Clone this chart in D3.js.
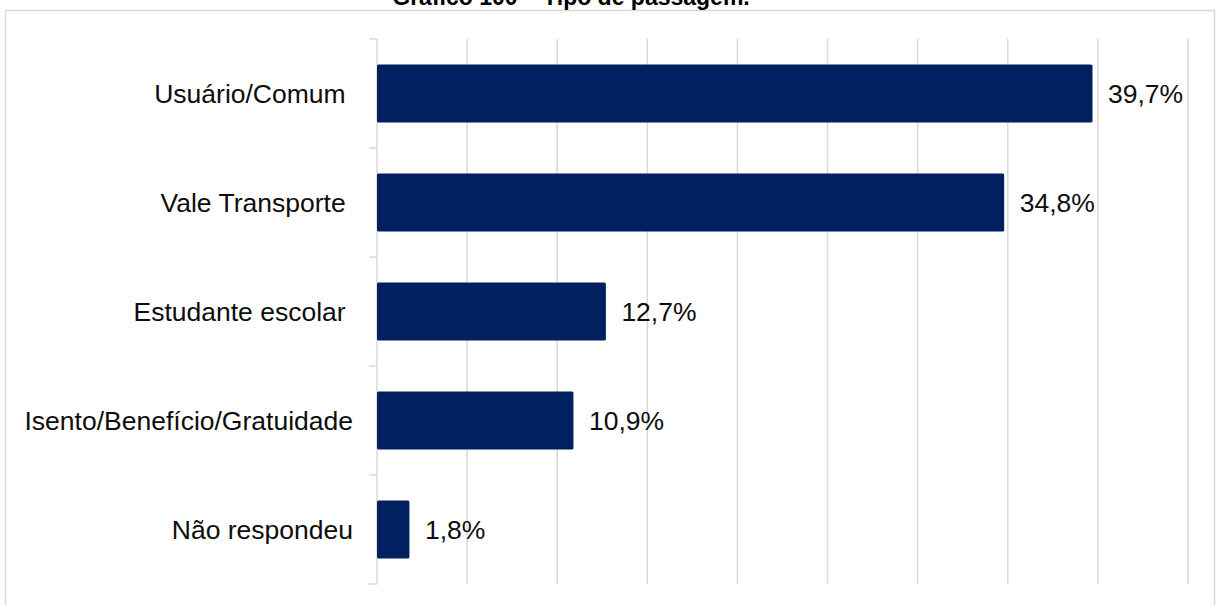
<!DOCTYPE html>
<html>
<head>
<meta charset="utf-8">
<script src="https://cdn.jsdelivr.net/npm/d3@7"></script>
<style>
  body { margin: 0; background: #fff; }
  svg { display: block; font-family: "Liberation Sans", Arial, sans-serif; }
</style>
</head>
<body>
<script>
// Data
const categories = ["Usuário/Comum ", "Vale Transporte ", "Estudante escolar ", "Isento/Benefício/Gratuidade", "Não respondeu"];
const values = [39.7, 34.8, 12.7, 10.9, 1.8];
const xTicks = [0, 5, 10, 15, 20, 25, 30, 35, 40, 45];
const title = "Gráfico 100 – Tipo de passagem.";

const svgWidth = 1217, svgHeight = 605;
const plot = { left: 377, right: 1188, top: 39, bottom: 584 };

const svg = d3.select("body").append("svg")
  .attr("width", svgWidth)
  .attr("height", svgHeight);

// chart frame
svg.append("rect")
  .attr("x", 5.5).attr("y", 10.5)
  .attr("width", 1209).attr("height", 620)
  .attr("fill", "none")
  .attr("stroke", "#d9d9d9")
  .attr("stroke-width", 1.5);

svg.append("text")
  .attr("x", 571).attr("y", 5)
  .attr("text-anchor", "middle")
  .attr("font-size", 23)
  .attr("font-weight", "bold")
  .text(title);

const x = d3.scaleLinear().domain([0, 45]).range([plot.left, plot.right]);
const y = d3.scaleBand().domain(categories).range([plot.top, plot.bottom])
  .paddingInner(0.47).paddingOuter(0.235);

const ptBR = d3.formatLocale({ decimal: ",", thousands: ".", grouping: [3], currency: ["R$", ""] });
const fmt = ptBR.format(".1f");

// vertical gridlines
svg.append("g").selectAll("line")
  .data(xTicks.slice(1))
  .join("line")
  .attr("x1", d => x(d)).attr("x2", d => x(d))
  .attr("y1", plot.top).attr("y2", plot.bottom)
  .attr("stroke", "#d9d9d9")
  .attr("stroke-width", 1.5);

// category axis with ticks on band boundaries
const boundaries = d3.range(categories.length + 1).map(i => plot.top + i * (plot.bottom - plot.top) / categories.length);
const axis = svg.append("g");
axis.append("line")
  .attr("x1", plot.left).attr("x2", plot.left)
  .attr("y1", plot.top).attr("y2", plot.bottom)
  .attr("stroke", "#d9d9d9").attr("stroke-width", 1.5);
axis.selectAll("line.tick")
  .data(boundaries)
  .join("line")
  .attr("class", "tick")
  .attr("x1", plot.left - 8).attr("x2", plot.left)
  .attr("y1", d => d).attr("y2", d => d)
  .attr("stroke", "#d9d9d9").attr("stroke-width", 1.5);

axis.selectAll("text")
  .data(categories)
  .join("text")
  .attr("x", 353)
  .attr("y", d => y(d) + y.bandwidth() / 2)
  .attr("dy", "0.35em")
  .attr("text-anchor", "end")
  .attr("font-size", 26.5)
  .attr("fill", "#0d0d0d")
  .style("white-space", "pre")
  .text(d => d);

// bars
svg.append("g").selectAll("rect")
  .data(values)
  .join("rect")
  .attr("x", x(0))
  .attr("y", (d, i) => y(categories[i]))
  .attr("width", d => x(d) - x(0))
  .attr("height", y.bandwidth())
  .attr("rx", 1.5)
  .attr("fill", "#002060");

// value labels
svg.append("g").selectAll("text")
  .data(values)
  .join("text")
  .attr("x", d => x(d) + 15.5)
  .attr("y", (d, i) => y(categories[i]) + y.bandwidth() / 2)
  .attr("dy", "0.35em")
  .attr("font-size", 26.5)
  .attr("fill", "#0d0d0d")
  .text(d => fmt(d) + "%");
</script>
</body>
</html>
